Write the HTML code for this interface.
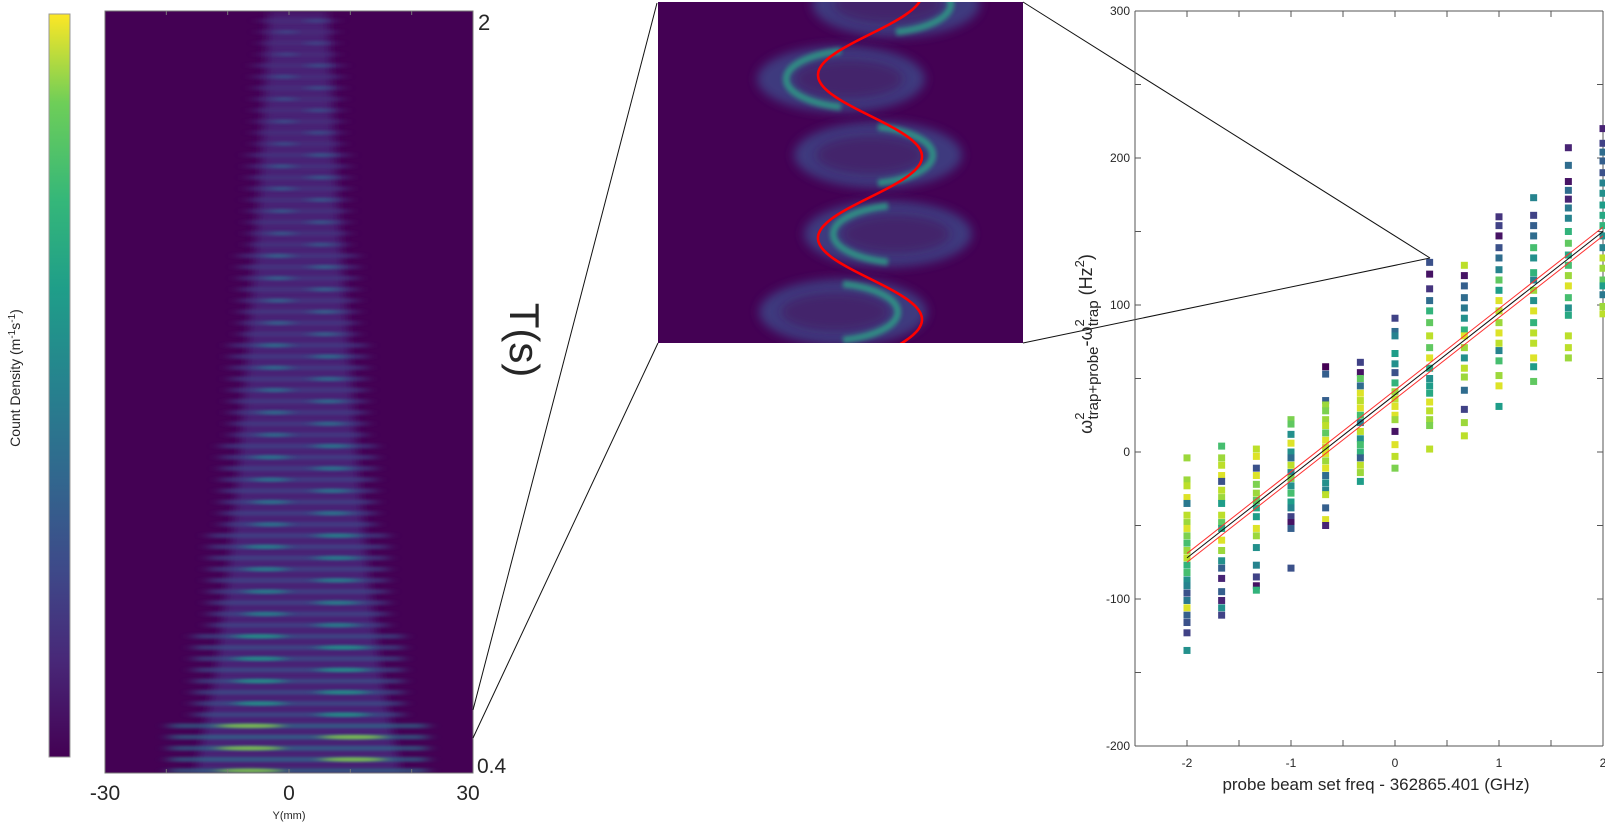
<!DOCTYPE html>
<html><head><meta charset="utf-8"><style>
html,body{margin:0;padding:0;background:#fff;}
svg{display:block;font-family:"Liberation Sans",sans-serif;}
</style></head><body>
<svg id="fig" width="1605" height="824" viewBox="0 0 1605 824" xmlns="http://www.w3.org/2000/svg">
<defs>
<linearGradient id="cbar" x1="0" y1="1" x2="0" y2="0">
<stop offset="0" stop-color="#440154"/><stop offset="0.13" stop-color="#482878"/><stop offset="0.25" stop-color="#3e4989"/><stop offset="0.38" stop-color="#31688e"/><stop offset="0.5" stop-color="#26828e"/><stop offset="0.63" stop-color="#1f9e89"/><stop offset="0.75" stop-color="#35b779"/><stop offset="0.88" stop-color="#6ece58"/><stop offset="1" stop-color="#fde725"/>
</linearGradient>
<filter id="hblur" x="-30%" y="-200%" width="160%" height="500%"><feGaussianBlur stdDeviation="7 1.2"/></filter>
<filter id="soft" x="-30%" y="-30%" width="160%" height="160%"><feGaussianBlur stdDeviation="5"/></filter>
<filter id="soft2" x="-30%" y="-30%" width="160%" height="160%"><feGaussianBlur stdDeviation="2.2"/></filter>
<clipPath id="hmclip"><rect x="105" y="11" width="368" height="762"/></clipPath>
<clipPath id="inclip"><rect x="658" y="2" width="365" height="341"/></clipPath>
<clipPath id="scclip"><rect x="1135" y="11" width="470" height="735"/></clipPath>
</defs>

<rect x="49" y="14" width="21" height="743" fill="url(#cbar)" stroke="#999" stroke-width="1"/>
<text transform="translate(20,378) rotate(-90)" text-anchor="middle" font-size="14" fill="#262626">Count Density (m<tspan baseline-shift="super" font-size="10">-1</tspan>s<tspan baseline-shift="super" font-size="10">-1</tspan>)</text>

<g>
<rect x="105" y="11" width="368" height="762" fill="#440154"/>
<g id="hm" clip-path="url(#hmclip)"></g>
<rect x="105" y="11" width="368" height="762" fill="none" stroke="#777" stroke-width="1"/>
</g>
<g id="hmticks"></g>
<text x="105" y="800" text-anchor="middle" font-size="21" fill="#262626">-30</text>
<text x="289" y="800" text-anchor="middle" font-size="21" fill="#262626">0</text>
<text x="468" y="800" text-anchor="middle" font-size="21" fill="#262626">30</text>
<text x="289" y="819" text-anchor="middle" font-size="11" fill="#262626">Y(mm)</text>
<text x="478" y="30" font-size="22" fill="#262626">2</text>
<text x="477" y="773" font-size="21" fill="#262626">0.4</text>
<text transform="translate(510,340) rotate(90)" text-anchor="middle" font-size="42" fill="#262626">T(s)</text>

<g stroke="#111" stroke-width="1">
<line x1="473" y1="710" x2="657" y2="3"/>
<line x1="473" y1="738" x2="658" y2="343"/>
<line x1="1023" y1="2" x2="1430" y2="258"/>
<line x1="1023" y1="343" x2="1430" y2="258"/>
</g>

<g>
<rect x="658" y="2" width="365" height="341" fill="#440154"/>
<g id="inset" clip-path="url(#inclip)"></g>
</g>

<g id="sc"></g>
<text x="1376" y="790" text-anchor="middle" font-size="17" fill="#262626">probe beam set freq - 362865.401 (GHz)</text>
<text transform="translate(1092,344) rotate(-90)" text-anchor="middle" font-size="18" fill="#262626">ω<tspan dy="-8" font-size="13">2</tspan><tspan dy="14" dx="-7" font-size="15">trap+probe</tspan><tspan dy="-6" font-size="18">-ω</tspan><tspan dy="-8" font-size="13">2</tspan><tspan dy="14" dx="-7" font-size="15">trap</tspan><tspan dy="-6" font-size="18"> (Hz</tspan><tspan dy="-8" font-size="13">2</tspan><tspan dy="8" font-size="18">)</tspan></text>
</svg>
<script>
// ---------- data ----------
var hmTimes = [0.4,0.6,0.8,1.0,1.2,1.4,1.6,1.8,2.0];
var hmHalfWidthMm = [21,17,14.5,12.5,11,9.5,8,7,6];
var hmPeakLevel = [0.9,0.5,0.4,0.33,0.27,0.2,0.14,0.09,0.05];

var colX = [-2,-1.667,-1.333,-1,-0.667,-0.333,0,0.333,0.667,1,1.333,1.667,2];
var colVals = [
[-4,-19,-23,-31,-35,-43,-48,-52,-57,-62,-67,-72,-77,-82,-87,-91,-96,-101,-106,-111,-116,-123,-135],
[4,-4,-9,-16,-20,-26,-31,-35,-43,-48,-52,-60,-67,-74,-79,-86,-95,-101,-106,-111],
[2,-3,-11,-16,-22,-28,-33,-38,-44,-52,-57,-65,-77,-85,-91,-94],
[22,19,12,6,0,-4,-9,-14,-18,-23,-28,-34,-38,-44,-48,-52,-79],
[58,53,35,32,28,22,18,13,8,3,-1,-6,-11,-16,-21,-26,-29,-38,-46,-50],
[61,54,50,45,40,35,30,25,20,14,9,5,0,-4,-9,-14,-20],
[91,82,79,67,60,54,47,41,36,31,25,22,14,5,-3,-11],
[129,121,111,103,96,88,79,71,64,57,50,45,40,34,28,22,18,2],
[127,120,113,105,98,91,83,79,71,64,57,51,42,29,20,11],
[160,154,147,139,132,124,117,110,103,96,88,81,74,69,62,52,45,31],
[173,161,154,147,139,132,122,117,110,103,96,88,81,74,64,58,48],
[207,195,184,178,172,166,159,150,142,134,127,120,113,105,98,93,79,71,64],
[220,210,204,198,190,183,176,168,161,154,147,139,132,125,117,113,107,99,94]
];
var colColors = [
[.85,.85,.9,.95,.4,.9,.85,.95,.8,.7,.85,.9,.65,.7,.5,.45,.25,.4,.95,.3,.25,.2,.5],
[.7,.85,.9,.95,.25,.9,.85,.55,.9,.75,.6,.95,.85,.5,.3,.1,.3,.1,.5,.2],
[.9,.95,.25,.95,.8,.85,.75,.6,.55,.95,.85,.5,.45,.2,.05,.65],
[.8,.75,.5,.95,.5,.35,.9,.45,.8,.5,.7,.55,.45,.2,.05,.3,.25],
[0,.3,.3,.85,.8,.85,.9,.75,.95,.9,.95,.85,.95,.35,.5,.45,.9,.3,.95,.1],
[.2,.05,.75,.35,.95,.9,.95,.7,.45,.9,.5,.7,.65,.3,.9,.85,.55],
[.2,.35,.45,.55,.5,.25,.65,.85,.9,.95,.95,.85,.05,.95,.9,.8],
[.25,.05,.15,.35,.65,.75,.9,.75,.95,.6,.5,.55,.6,.95,.9,.85,.8,.9],
[.9,.05,.3,.35,.4,.5,.65,.95,.85,.5,.9,.85,.35,.2,.85,.9],
[.15,.2,.05,.25,.35,.45,.75,.55,.95,.9,.85,.95,.9,.45,.7,.85,.95,.55],
[.45,.2,.3,.35,.7,.5,.65,.45,.85,.5,.95,.65,.9,.9,.95,.55,.75],
[.1,.35,.05,.35,.1,.4,.45,.65,.75,.6,.7,.85,.95,.7,.5,.6,.9,.9,.85],
[.1,.2,.35,.3,.25,.45,.5,.55,.6,.65,.5,.45,.9,.85,.75,.55,.4,.85,.9]
];
var fitSlope = 55.5;
var fitIntercept = 39;
var fitBand = 3;
var xTickVals = [-2,-1,0,1,2];
var yTickVals = [-200,-100,0,100,200,300];

var lobeCx = [238,183,220,230,185];
var lobeCy = [2,77,153,232,310];
var lobeBright = [1,-1,1,-1,1];

// ---------- helpers ----------
var NS = "http://www.w3.org/2000/svg";
function mk(tag, attrs, parent){var e=document.createElementNS(NS,tag);for(var k in attrs)e.setAttribute(k,attrs[k]);parent.appendChild(e);return e;}
var VIR=[[68,1,84],[72,40,120],[62,73,137],[49,104,142],[38,130,142],[31,158,137],[53,183,121],[110,206,88],[181,222,43],[253,231,37]];
function viridis(t){t=Math.max(0,Math.min(1,t));var s=t*(VIR.length-1),i=Math.min(VIR.length-2,Math.floor(s)),f=s-i;var a=VIR[i],b=VIR[i+1];return "rgb("+Math.round(a[0]+(b[0]-a[0])*f)+","+Math.round(a[1]+(b[1]-a[1])*f)+","+Math.round(a[2]+(b[2]-a[2])*f)+")";}

// ---------- heatmap ----------
var hm=document.getElementById('hm');
function hx(mm){return 289+mm*368/60;}
function hy(t){return 773-(t-0.4)*(762/1.6);}
var glow=mk('path',{d:'',fill:viridis(0.1),filter:'url(#soft)'},hm);


var pl=[],pr=[];
for(var i=0;i<hmTimes.length;i++){pl.push(hx(-hmHalfWidthMm[i]*0.8+1.5)+','+hy(hmTimes[i]));pr.unshift(hx(hmHalfWidthMm[i]*0.8+1.5)+','+hy(hmTimes[i]));}
glow.setAttribute('d','M'+pl.join(' L')+' L'+pr.join(' L')+' Z');
function sampleIdx(t){var best=0;for(var i=0;i<hmTimes.length;i++){if(Math.abs(hmTimes[i]-t)<Math.abs(hmTimes[best]-t))best=i;}return best;}
var k=0;
for(var t=0.405;t<2.0;t+=0.0235,k++){
  var si=sampleIdx(t),hw=hmHalfWidthMm[si],lv=hmPeakLevel[si];
  var y=hy(t);
  var band=mk('rect',{x:hx(-hw+1.5),y:y-2.5,width:hx(hw)-hx(-hw),height:5,fill:viridis(0.12+lv*0.3),opacity:0.6,filter:'url(#hblur)'},hm);
  
  
  var side=(k%2===0)?-1:1;
  var spot=mk('ellipse',{cx:hx(side*hw*0.4+2),cy:y,rx:hw*6.13*0.25,ry:2.2,fill:viridis(0.2+lv*0.7),opacity:0.75,filter:'url(#hblur)'},hm);
  
  
}
var ht=document.getElementById('hmticks');
[-20,-10,0,10,20].forEach(function(v){mk('line',{x1:hx(v),x2:hx(v),y1:773,y2:769,stroke:'#777'},ht);mk('line',{x1:hx(v),x2:hx(v),y1:11,y2:15,stroke:'#777'},ht);});

// ---------- inset ----------
var ins=document.getElementById('inset');
var ox=658,oy=2;
for(var j=0;j<lobeCx.length;j++){
  var cx=ox+lobeCx[j],cy=oy+lobeCy[j];
  var el=mk('ellipse',{cx:cx,cy:cy,rx:84,ry:33,fill:'#3e4a89',opacity:0.8,filter:'url(#soft)'},ins);
  
  
  mk('ellipse',{cx:cx+lobeBright[j]*-8,cy:cy,rx:54,ry:19,fill:'#46125f',opacity:0.6,filter:'url(#soft)'},ins);
  var s=lobeBright[j];
  var d='M'+cx+','+(cy-28)+' A74,29 0 0,'+(s>0?1:0)+' '+cx+','+(cy+28);
  var arc=mk('path',{d:d,fill:'none',stroke:'#2fa086',"stroke-width":7,opacity:0.8,filter:'url(#soft2)'},ins);
  
  
}
var sp=[];
for(var yy=-5;yy<=345;yy+=2){var xx=212-52*Math.cos(2*Math.PI*(yy-73)/163);sp.push((ox+xx).toFixed(1)+','+(oy+yy));}
var sine=mk('polyline',{points:sp.join(' '),fill:'none',stroke:'#ff0000',"stroke-width":2.6},ins);



// ---------- scatter ----------
var sc=document.getElementById('sc');
var L=1135,R=1603,T=11,B=746;
function sx(v){return L+(v+2.5)/4.5*(R-L);}
function sy(v){return B-(v+200)/500*(B-T);}
var axc='#555';
mk('line',{x1:L,y1:T,x2:L,y2:B,stroke:axc},sc);
mk('line',{x1:L,y1:B,x2:R,y2:B,stroke:axc},sc);
mk('line',{x1:L,y1:T,x2:R,y2:T,stroke:axc},sc);
mk('line',{x1:R,y1:T,x2:R,y2:B,stroke:axc},sc);
for(var v=-200;v<=300;v+=50){mk('line',{x1:L,x2:L+6,y1:sy(v),y2:sy(v),stroke:axc},sc);mk('line',{x1:R,x2:R-6,y1:sy(v),y2:sy(v),stroke:axc},sc);}
for(var v=-2.5;v<=2;v+=0.5){mk('line',{x1:sx(v),x2:sx(v),y1:B,y2:B-6,stroke:axc},sc);mk('line',{x1:sx(v),x2:sx(v),y1:T,y2:T+6,stroke:axc},sc);}
yTickVals.forEach(function(v){var t=mk('text',{x:L-5,y:sy(v)+4,"text-anchor":"end","font-size":12,fill:'#262626'},sc);t.textContent=String(v);

});
xTickVals.forEach(function(v){var t=mk('text',{x:sx(v),y:B+21,"text-anchor":"middle","font-size":12,fill:'#262626'},sc);t.textContent=String(v);

});
var pg=mk('g',{"clip-path":"url(#scclip)"},sc);
for(var c=0;c<colX.length;c++){
  for(var p=0;p<colVals[c].length;p++){
    var r=mk('rect',{x:sx(colX[c])-3.5,y:sy(colVals[c][p])-3.5,width:7,height:7,fill:viridis(colColors[c][p])},pg);
    
    
  }
}
function fitY(x,off){return fitSlope*x+fitIntercept+off;}
[[-fitBand,'#ff3030'],[fitBand,'#ff3030'],[0,'#111']].forEach(function(o){
  var ln=mk('line',{x1:sx(-2),y1:sy(fitY(-2,o[0])),x2:sx(2),y2:sy(fitY(2,o[0])),stroke:o[1],"stroke-width":1},pg);
  
  
});
</script>
</body></html>
